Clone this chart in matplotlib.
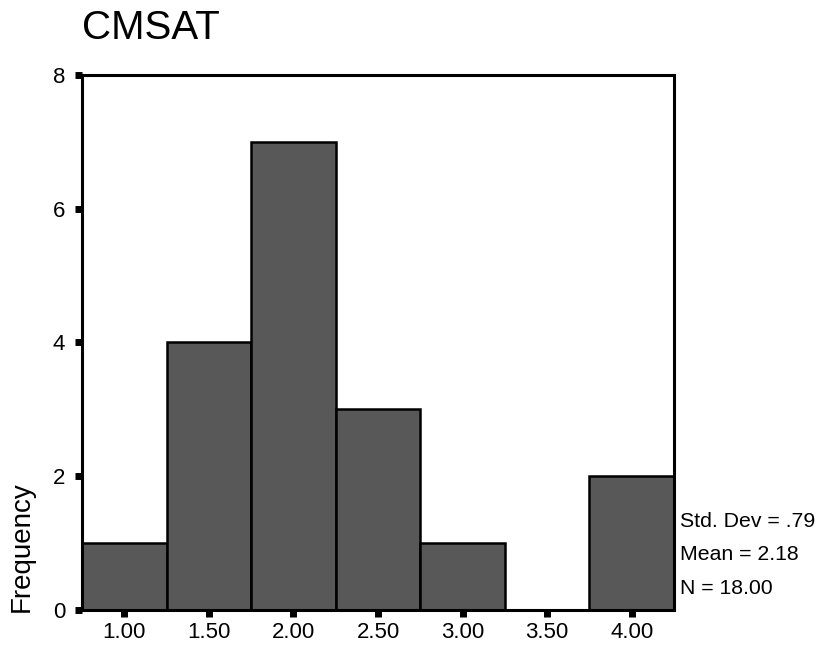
import numpy as np
import matplotlib.pyplot as plt

plt.rcParams['font.family'] = ['Liberation Sans', 'DejaVu Sans']

# histogram of CMSAT, bin centres and counts
bin_centers = [1.00, 1.50, 2.00, 2.50, 3.00, 3.50, 4.00]
counts = [1, 4, 7, 3, 1, 0, 2]
bin_width = 0.5
tick_labels = ["1.00", "1.50", "2.00", "2.50", "3.00", "3.50", "4.00"]
y_ticks = [0, 2, 4, 6, 8]
stats = ["Std. Dev = .79", "Mean = 2.18", "N = 18.00"]

fig = plt.figure(figsize=(8.23, 6.45), dpi=100)
ax = fig.add_axes([0.0996, 0.0543, 0.7194, 0.8297])

ax.bar(bin_centers, counts, width=bin_width, color='#585858',
       edgecolor='black', linewidth=1.8, zorder=2)

ax.set_xlim(0.75, 4.25)
ax.set_ylim(0, 8)
ax.set_xticks(bin_centers)
ax.set_xticklabels(tick_labels)
ax.set_yticks(y_ticks)

for s in ax.spines.values():
    s.set_linewidth(2.2)

ax.tick_params(axis='both', direction='out', length=5, width=5,
               labelsize=16, pad=4)
ax.tick_params(axis='y', pad=7)

# SPSS puts the axis title low, next to the origin
fig.text(0.027, 0.153, "Frequency", fontsize=20, rotation=90,
         ha='center', va='center')
fig.text(0.1, 0.94, "CMSAT", fontsize=29, ha='left', va='baseline')

for i, s in enumerate(stats):
    fig.text(0.826, 0.192 - i * 0.052, s, fontsize=15.3, ha='left', va='center')

fig.savefig("out.png", dpi=100)
